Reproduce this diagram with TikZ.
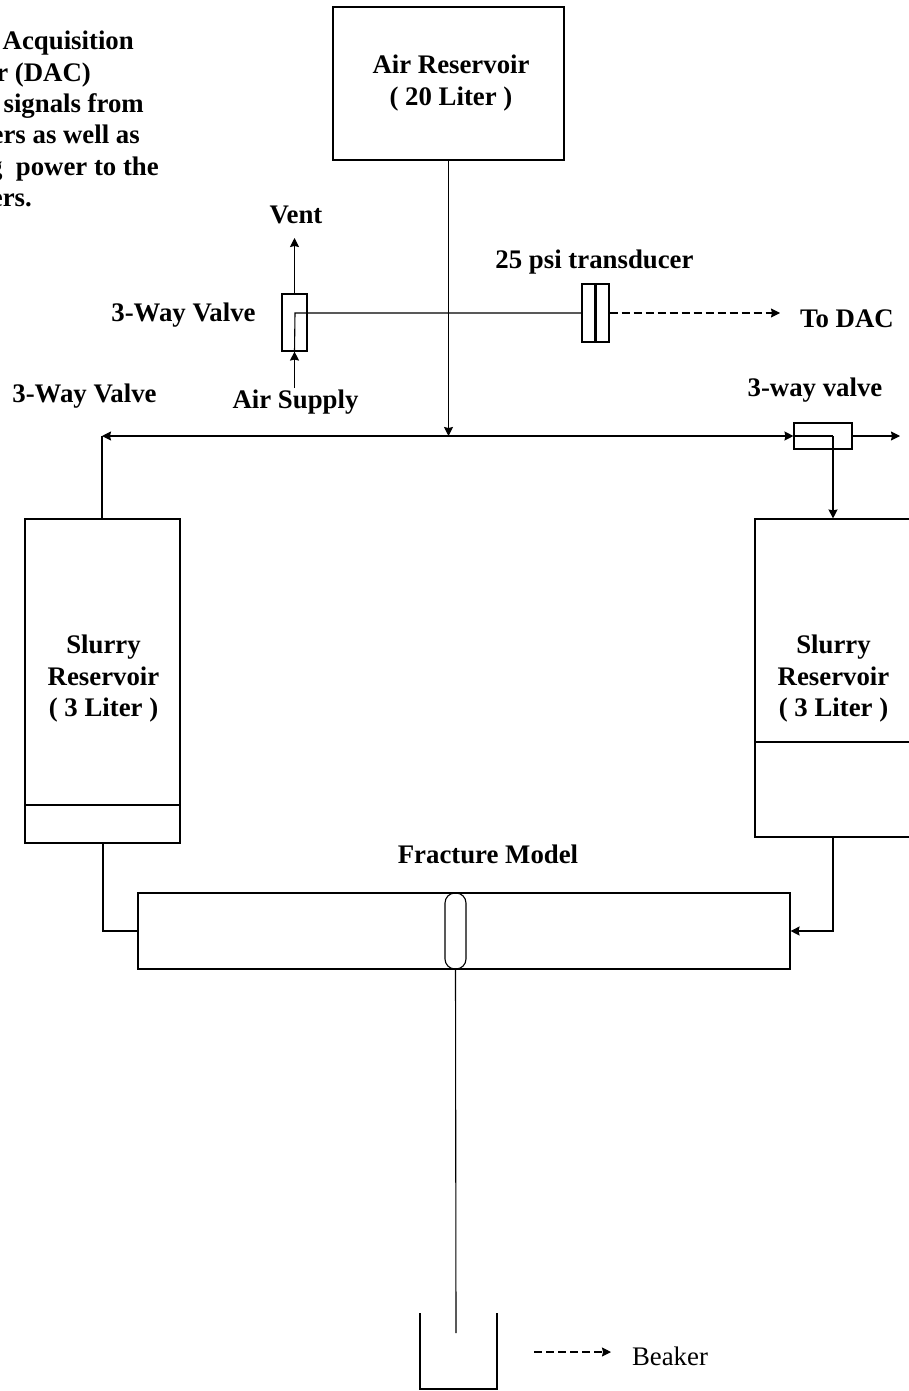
\documentclass[tikz,border=0pt]{standalone}
\usepackage{fontspec}
\setmainfont{Liberation Serif}
\usetikzlibrary{arrows.meta}
\tikzset{
  unitbox/.style={rectangle,draw=black,line width=1.1pt,inner sep=0pt},
  lbl/.style={font=\fontsize{26.8}{31.5}\selectfont\bfseries,align=center,inner sep=0pt},
  pipe/.style={draw=black,line width=1.1pt},
  signal/.style={pipe,dash pattern=on 8pt off 4pt},
}
\begin{document}
\begin{tikzpicture}[x=1pt,y=-1pt,>={Stealth[length=9pt,width=9pt,inset=1pt]}]
\useasboundingbox (0,0) rectangle (908,1391);
\node[unitbox,minimum width=231pt,minimum height=153pt] (airres) at (448.5,83.5) {};
\node[lbl] (airreslbl) at (451,83) {Air Reservoir\\( 20 Liter )};
\node[unitbox,minimum width=25pt,minimum height=57pt] (ventvalve) at (294.5,322.5) {};
\node[unitbox,minimum width=14pt,minimum height=58pt] (transa) at (589,313) {};
\node[unitbox,minimum width=14pt,minimum height=58pt] (transb) at (602,313) {};
\node[unitbox,minimum width=58pt,minimum height=26pt] (sidevalve) at (823,436) {};
\node[unitbox,minimum width=155pt,minimum height=324pt] (slurryl) at (102.5,681) {};
\node[unitbox,minimum width=160pt,minimum height=318pt] (slurryr) at (835,678) {};
\node[unitbox,minimum width=652pt,minimum height=76pt] (fracture) at (464,931) {};
\node[unitbox,rounded corners=10pt,minimum width=21pt,minimum height=76pt] (slot) at (455.5,931) {};
% text
\node[lbl,anchor=base] (ventlbl) at (296,223) {Vent};
\node[lbl,anchor=base] (valvelbla) at (183.5,321) {3-Way Valve};
\node[lbl,anchor=base] (supplylbl) at (295.5,408) {Air Supply};
\node[lbl,anchor=base] (valvelblb) at (84.5,402) {3-Way Valve};
\node[lbl,anchor=base] (translbl) at (594.5,268) {25 psi transducer};
\node[lbl,anchor=base] (daclbl) at (847,327) {To DAC};
\node[lbl,anchor=base] (valvelblc) at (815,396) {3-way valve};
\node[lbl] (slurrylbll) at (103.5,679) {Slurry\\Reservoir\\( 3 Liter )};
\node[lbl] (slurrylblr) at (833.5,679) {Slurry\\Reservoir\\( 3 Liter )};
\node[lbl,anchor=base] (fracturelbl) at (488,863) {Fracture Model};
\node[lbl,anchor=base,font=\fontsize{26.8}{31.5}\selectfont] (beakerlbl) at (670,1365) {Beaker};
\foreach \name/\xe/\y/\txt in {notea/134/50/Acquisition,noteb/91/82/r (DAC),notec/144/113/signals from,noted/140/144/ers as well as,notee/159/176/g\ \ power to the,notef/32/207/ers.}
  \node[lbl,anchor=base east] (\name) at (\xe,\y) {\txt};
% free ends
\coordinate (ventend) at (ventvalve.north |- 0,238);
\coordinate (supplyend) at (ventvalve.south |- 0,388);
\coordinate (dacend) at (780,313);
\coordinate (mainl) at (102,436);
\coordinate (mainm) at (airres.south |- 0,436);
\coordinate (sideend) at (900,436);
\coordinate (vbend) at (295,313);
\coordinate (sbend) at (833,436);
\coordinate (beakertl) at (420,1313);
\coordinate (beakerbl) at (420,1389);
\coordinate (beakerbr) at (497,1389);
\coordinate (beakertr) at (497,1313);
\coordinate (dripend) at (456,1333);
\coordinate (keya) at (534,1352);
\coordinate (keyb) at (611,1352);
% connectors
\draw[->,pipe] (ventvalve.north) -- (ventend);
\draw[->,pipe] (supplyend) -- (ventvalve.south);
\draw[pipe] (ventvalve.south) -- (vbend) -- (transa.west);
\draw[->,signal] (transb.east) -- (dacend);
\draw[->,pipe] (airres.south) -- (mainm);
\draw[<->,pipe] (mainl) -- (sidevalve.west);
\draw[pipe] (mainl) -- (mainl |- slurryl.north);
\draw[pipe] (sidevalve.west) -- (sbend);
\draw[->,pipe] (sbend) -- (sbend |- slurryr.north);
\draw[->,pipe] (sidevalve.east) -- (sideend);
\draw[pipe] (slurryl.west |- 0,805) -- (slurryl.east |- 0,805);
\draw[pipe] (slurryr.west |- 0,742) -- (slurryr.east |- 0,742);
\draw[pipe] (103,843) |- (fracture.west);
\draw[->,pipe] (833,837) |- (fracture.east);
\draw[pipe] (slot.south) -- (dripend);
\draw[pipe] (beakertl) -- (beakerbl) -- (beakerbr) -- (beakertr);
\draw[->,signal] (keya) -- (keyb);
\end{tikzpicture}
\end{document}
